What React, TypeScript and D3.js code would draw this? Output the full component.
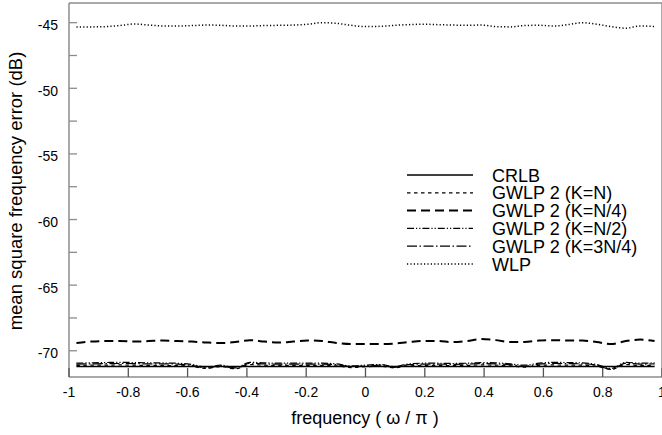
import React from "react";
import * as d3 from "d3";

const W = 662;
const H = 435;

// frequency grid (ω/π)
const freq = [
  -0.975, -0.926, -0.878, -0.829, -0.78, -0.731, -0.683, -0.634, -0.585, -0.536,
  -0.488, -0.439, -0.39, -0.341, -0.293, -0.244, -0.195, -0.146, -0.098, -0.049,
  0, 0.049, 0.098, 0.146, 0.195, 0.244, 0.293, 0.341, 0.39, 0.439,
  0.488, 0.536, 0.585, 0.634, 0.683, 0.731, 0.78, 0.829, 0.878, 0.926, 0.975,
];

const crlb = [
  -71.2, -71.2, -71.2, -71.2, -71.2, -71.2, -71.2, -71.2, -71.2, -71.2,
  -71.2, -71.2, -71.2, -71.2, -71.2, -71.2, -71.2, -71.2, -71.2, -71.2,
  -71.2, -71.2, -71.2, -71.2, -71.2, -71.2, -71.2, -71.2, -71.2, -71.2,
  -71.2, -71.2, -71.2, -71.2, -71.2, -71.2, -71.2, -71.2, -71.2, -71.2, -71.2,
];

const gwlpN = [
  -71.12, -71.1, -71.1, -71.08, -71.1, -71.12, -71.12, -71.13, -71.2, -71.35,
  -71.2, -71.38, -71.05, -71.1, -71.12, -71.12, -71.12, -71.12, -71.15, -71.28,
  -71.22, -71.18, -71.3, -71.15, -71.12, -71.12, -71.13, -71.12, -71.08, -71.1,
  -71.15, -71.25, -71.12, -71.08, -71.1, -71.1, -71.2, -71.42, -71.05, -71.12, -71.1,
];

const gwlpN4 = [
  -69.41, -69.3, -69.26, -69.26, -69.3, -69.26, -69.22, -69.26, -69.3, -69.37,
  -69.41, -69.34, -69.19, -69.3, -69.37, -69.3, -69.22, -69.26, -69.41, -69.49,
  -69.49, -69.49, -69.45, -69.34, -69.26, -69.26, -69.34, -69.26, -69.11, -69.19,
  -69.34, -69.34, -69.22, -69.19, -69.22, -69.22, -69.34, -69.49, -69.26, -69.15, -69.26,
];

const gwlpN2 = [
  -70.95, -70.92, -70.9, -70.88, -70.9, -70.92, -70.93, -70.95, -71.05, -71.25,
  -71.1, -71.3, -70.88, -70.92, -70.95, -70.95, -70.95, -70.95, -71.0, -71.15,
  -71.1, -71.05, -71.2, -71.0, -70.95, -70.95, -70.97, -70.95, -70.9, -70.92,
  -71.0, -71.1, -70.95, -70.88, -70.9, -70.92, -71.05, -71.35, -70.88, -70.95, -70.92,
];

const gwlp3N4 = [
  -71.02, -71.0, -70.98, -70.97, -70.98, -71.0, -71.0, -71.02, -71.12, -71.32,
  -71.15, -71.36, -70.95, -71.0, -71.02, -71.02, -71.02, -71.02, -71.06, -71.22,
  -71.16, -71.1, -71.26, -71.06, -71.02, -71.02, -71.04, -71.02, -70.98, -71.0,
  -71.06, -71.18, -71.02, -70.96, -70.98, -71.0, -71.1, -71.42, -70.95, -71.02, -71.0,
];

const wlp = [
  -45.32, -45.32, -45.3, -45.22, -45.1, -45.18, -45.25, -45.25, -45.22, -45.18,
  -45.2, -45.25, -45.25, -45.22, -45.2, -45.18, -45.12, -45.0, -45.05, -45.2,
  -45.3, -45.28, -45.2, -45.15, -45.12, -45.15, -45.18, -45.2, -45.18, -45.3,
  -45.32, -45.22, -45.2, -45.25, -45.15, -45.0, -45.12, -45.3, -45.42, -45.25, -45.3,
];

const seriesNames = [
  "CRLB",
  "GWLP 2 (K=N)",
  "GWLP 2 (K=N/4)",
  "GWLP 2 (K=N/2)",
  "GWLP 2 (K=3N/4)",
  "WLP",
];

const xTicks = [-1, -0.8, -0.6, -0.4, -0.2, 0, 0.2, 0.4, 0.6, 0.8, 1];
const yTicks = [-45, -50, -55, -60, -65, -70];
const yMinorTicks = [-47.5, -52.5, -57.5, -62.5, -67.5];

const xLabel = "frequency ( ω / π )";
const yLabel = "mean square frequency error (dB)";

const styles = [
  { dash: "none", width: 1.6 },
  { dash: "3.5,3.5", width: 1.2 },
  { dash: "9,5", width: 2 },
  { dash: "7,2,1.2,2,1.2,2", width: 1.2 },
  { dash: "10,2.5,1.5,2.5", width: 1.2 },
  { dash: "1.2,2.2", width: 1.5 },
];

const FONT = "'Liberation Sans', Arial, Helvetica, sans-serif";

export default function App() {
  const left = 69;
  const right = 662;
  const top = 3;
  const bottom = 377;

  const x = d3.scaleLinear().domain([-1, 1]).range([left, right]);
  const y = d3.scaleLinear().domain([-72, -43.5]).range([bottom, top]);

  const allSeries = [crlb, gwlpN, gwlpN4, gwlpN2, gwlp3N4, wlp];

  const line = d3
    .line<number>()
    .x((_, i) => x(freq[i]))
    .y((d) => y(d))
    .curve(d3.curveMonotoneX);

  const axisColor = "#8c8c8c";

  const legendX0 = 407;
  const legendX1 = 473;
  const legendTextX = 492;
  const legendY0 = 175;
  const legendDy = 17.8;

  return (
    <svg
      width={W}
      height={H}
      style={{ position: "absolute", left: 0, top: 0, background: "#fff" }}
      fontFamily={FONT}
    >
      <rect x={0} y={0} width={W} height={H} fill="#fff" />
      {/* frame */}
      <line x1={left} x2={right} y1={top} y2={top} stroke={axisColor} strokeWidth={1.5} />
      <line x1={left} x2={right} y1={bottom} y2={bottom} stroke={axisColor} strokeWidth={1.5} />
      <line x1={left} x2={left} y1={top} y2={bottom} stroke={axisColor} strokeWidth={1.5} />
      <line x1={right} x2={right} y1={top} y2={bottom} stroke={axisColor} strokeWidth={1.5} />

      {/* y ticks */}
      {yTicks.map((t) => (
        <g key={"y" + t}>
          <line x1={left} x2={left + 8} y1={y(t)} y2={y(t)} stroke={axisColor} strokeWidth={1.3} />
          <text x={58} y={y(t) + 7.5} fontSize={14} textAnchor="end" fill="#000">
            {t}
          </text>
        </g>
      ))}
      {yMinorTicks.map((t) => (
        <line key={"ym" + t} x1={left} x2={left + 8} y1={y(t)} y2={y(t)} stroke={axisColor} strokeWidth={1.3} />
      ))}

      {/* x ticks */}
      {xTicks.map((t) => (
        <g key={"x" + t}>
          <line x1={x(t)} x2={x(t)} y1={bottom} y2={bottom - 9} stroke="#555" strokeWidth={1.3} />
          <text x={x(t)} y={397} fontSize={14} textAnchor="middle" fill="#000">
            {t}
          </text>
        </g>
      ))}

      {/* series */}
      {allSeries.map((s, i) => (
        <path
          key={"s" + i}
          d={line(s) || ""}
          fill="none"
          stroke="#000"
          strokeWidth={styles[i].width}
          strokeDasharray={styles[i].dash}
        />
      ))}

      {/* legend */}
      {seriesNames.map((n, i) => (
        <g key={"l" + i}>
          <line
            x1={legendX0}
            x2={legendX1}
            y1={legendY0 + i * legendDy}
            y2={legendY0 + i * legendDy}
            stroke="#000"
            strokeWidth={styles[i].width}
            strokeDasharray={styles[i].dash}
          />
          <text x={legendTextX} y={legendY0 + i * legendDy + 6.5} fontSize={18} fill="#000">
            {n}
          </text>
        </g>
      ))}

      {/* axis titles */}
      <text x={365} y={424} fontSize={18} textAnchor="middle" fill="#000">
        {xLabel}
      </text>
      <text
        transform="translate(22,191) rotate(-90)"
        fontSize={18.5}
        textAnchor="middle"
        fill="#000"
      >
        {yLabel}
      </text>
    </svg>
  );
}
